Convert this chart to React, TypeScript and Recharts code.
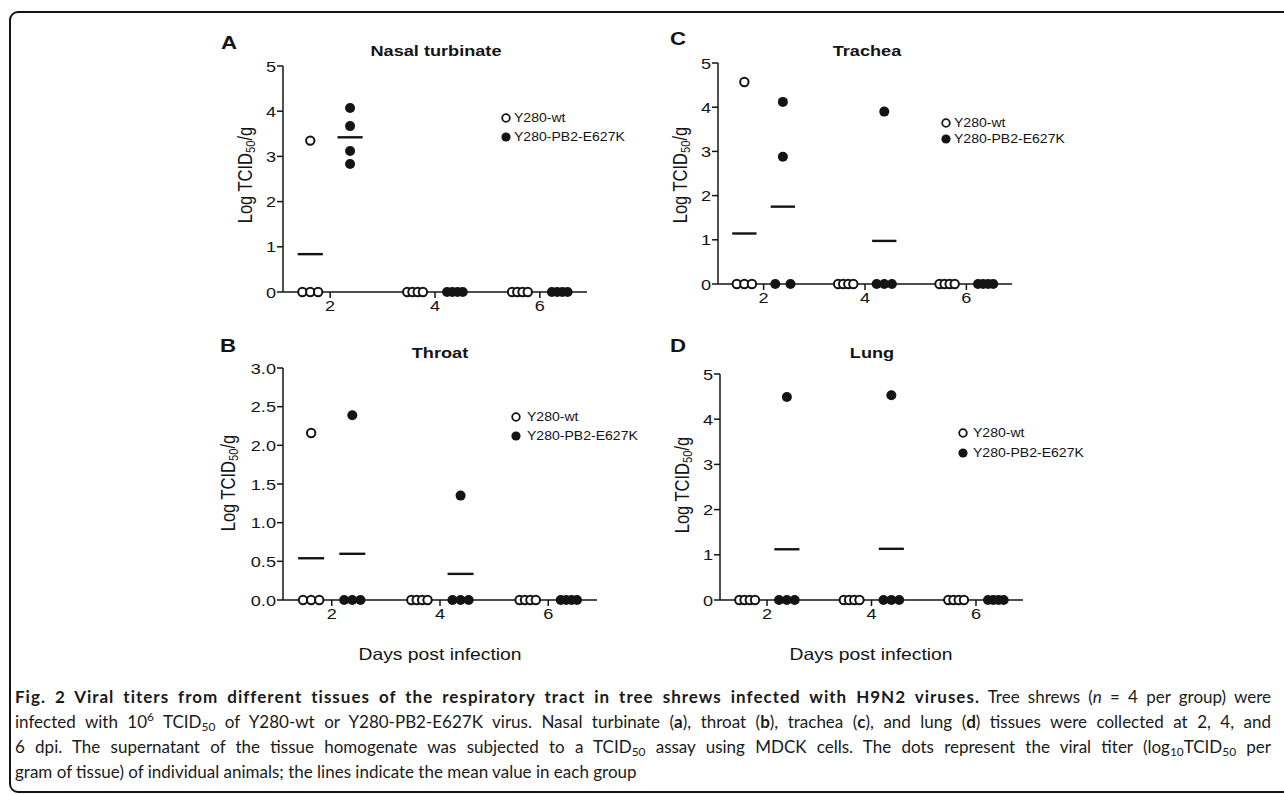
import React from 'react';
import { ScatterChart, Scatter, XAxis, YAxis, ReferenceLine } from 'recharts';

// values: one array per day (2, 4, 6), 4 animals each
const days = [2, 4, 6];
const seriesNames = ['Y280-wt', 'Y280-PB2-E627K'];

const nasalWt = [[3.35, 0, 0, 0], [0, 0, 0, 0], [0, 0, 0, 0]];
const nasalPb2 = [[4.07, 3.67, 3.12, 2.83], [0, 0, 0, 0], [0, 0, 0, 0]];
const throatWt = [[2.16, 0, 0, 0], [0, 0, 0, 0], [0, 0, 0, 0]];
const throatPb2 = [[2.39, 0, 0, 0], [1.35, 0, 0, 0], [0, 0, 0, 0]];
const tracheaWt = [[4.57, 0, 0, 0], [0, 0, 0, 0], [0, 0, 0, 0]];
const tracheaPb2 = [[4.12, 2.88, 0, 0], [3.9, 0, 0, 0], [0, 0, 0, 0]];
const lungWt = [[0, 0, 0, 0], [0, 0, 0, 0], [0, 0, 0, 0]];
const lungPb2 = [[4.49, 0, 0, 0], [4.53, 0, 0, 0], [0, 0, 0, 0]];

const ticks5 = [0, 1, 2, 3, 4, 5];
const ticks3 = [0, 0.5, 1, 1.5, 2, 2.5, 3];

const FONT = '"Liberation Sans", Arial, Helvetica, sans-serif';
const SX = 1.17; // the figure is a bit stretched sideways
const INK = '#141414';
const OFF = 0.38; // group offset from the day tick
const ZSPAN = 0.3; // spread of points sitting on zero
const HALF = 0.24; // half width of mean bar

function spread(values: number[], center: number) {
  const n = values.filter((v) => v === 0).length;
  let k = 0;
  return values.map((v) => {
    if (v !== 0) return { x: center, y: v };
    const x = n > 1 ? center + (k / (n - 1) - 0.5) * ZSPAN : center;
    k++;
    return { x, y: 0 };
  });
}

const mean = (a: number[]) => a.reduce((s, v) => s + v, 0) / a.length;

function YTick(props: any) {
  const { x, y, payload, fmt } = props;
  return (
    <text
      x={x}
      y={y}
      dy="0.36em"
      textAnchor="end"
      fill={INK}
      fontSize={15.5}
      fontFamily={FONT}
      transform={`translate(${x} ${y}) scale(${SX} 1) translate(${-x} ${-y})`}
    >
      {fmt(payload.value)}
    </text>
  );
}

function XTick(props: any) {
  const { x, y, payload } = props;
  return (
    <text
      x={x}
      y={y}
      dy="0.74em"
      textAnchor="middle"
      fill={INK}
      fontSize={15.5}
      fontFamily={FONT}
      transform={`translate(${x} ${y}) scale(${SX} 1) translate(${-x} ${-y})`}
    >
      {payload.value}
    </text>
  );
}

const openDot = (p: any) => (
  <circle cx={p.cx} cy={p.cy} r={4.2} fill="#fff" stroke={INK} strokeWidth={2} />
);
const fullDot = (p: any) => <circle cx={p.cx} cy={p.cy} r={5} fill={INK} />;

function Txt({ x, y, size, bold, children }: any) {
  return (
    <div
      style={{
        position: 'absolute',
        left: x,
        top: y,
        transform: `translate(-50%,-50%) scaleX(${SX})`,
        fontFamily: FONT,
        fontSize: size,
        fontWeight: bold ? 700 : 400,
        whiteSpace: 'nowrap',
        lineHeight: 1,
        color: INK,
      }}
    >
      {children}
    </div>
  );
}

const sub = { fontSize: '0.68em', lineHeight: 0, verticalAlign: '-0.28em' } as const;

function YLabel({ x, y }: any) {
  return (
    <div
      style={{
        position: 'absolute',
        left: x,
        top: y,
        transform: `translate(-50%,-50%) rotate(-90deg) scaleY(${SX})`,
        fontFamily: FONT,
        fontSize: 16.5,
        whiteSpace: 'nowrap',
        lineHeight: 1,
        color: INK,
      }}
    >
      Log TCID<span style={sub}>50</span>/g
    </div>
  );
}

function LegendRow({ x, y, textX, filled, label }: any) {
  return (
    <>
      <svg
        width={14}
        height={14}
        style={{ position: 'absolute', left: x - 7, top: y - 7 }}
      >
        {filled ? (
          <circle cx={7} cy={7} r={4.6} fill={INK} />
        ) : (
          <circle cx={7} cy={7} r={3.8} fill="#fff" stroke={INK} strokeWidth={1.8} />
        )}
      </svg>
      <div
        style={{
          position: 'absolute',
          left: textX,
          top: y,
          transform: `translateY(-50%) scaleX(${SX})`,
          transformOrigin: 'left center',
          fontFamily: FONT,
          fontSize: 12,
          whiteSpace: 'nowrap',
          lineHeight: 1,
          color: INK,
        }}
      >
        {label}
      </div>
    </>
  );
}

function Panel({ cfg }: any) {
  const { plot, wt, pb2, yMax, yTicks, fmt } = cfg;
  const padL = 60;
  const padT = 12;
  const padR = 12;
  const padB = 30;
  const width = plot.r - plot.l + padL + padR;
  const height = plot.b - plot.t + padT + padB;

  const wtPts = days.flatMap((d, i) => spread(wt[i], d - OFF));
  const pbPts = days.flatMap((d, i) => spread(pb2[i], d + OFF));
  const bars: { c: number; m: number }[] = [];
  days.forEach((d, i) => {
    bars.push({ c: d - OFF, m: mean(wt[i]) });
    bars.push({ c: d + OFF, m: mean(pb2[i]) });
  });

  const axisStyle = { stroke: INK, strokeWidth: 1.5 };

  return (
    <>
      <div style={{ position: 'absolute', left: plot.l - padL, top: plot.t - padT }}>
        <ScatterChart
          width={width}
          height={height}
          margin={{ top: padT, right: padR, left: 0, bottom: 0 }}
        >
          <XAxis
            type="number"
            dataKey="x"
            domain={[1.1, 6.9]}
            ticks={days}
            height={padB}
            tickSize={6}
            tickMargin={2}
            axisLine={axisStyle}
            tickLine={axisStyle}
            tick={<XTick />}
          />
          <YAxis
            type="number"
            dataKey="y"
            domain={[0, yMax]}
            ticks={yTicks}
            width={padL}
            tickSize={6}
            tickMargin={1}
            axisLine={axisStyle}
            tickLine={axisStyle}
            tick={<YTick fmt={fmt} />}
          />
          {bars
            .filter((b) => b.m > 0)
            .map((b, i) => (
              <ReferenceLine
                key={i}
                segment={[
                  { x: b.c - HALF, y: b.m },
                  { x: b.c + HALF, y: b.m },
                ]}
                stroke={INK}
                strokeWidth={2.4}
                ifOverflow="visible"
              />
            ))}
          <Scatter data={wtPts} shape={openDot} isAnimationActive={false} />
          <Scatter data={pbPts} shape={fullDot} isAnimationActive={false} />
        </ScatterChart>
      </div>
      <Txt x={cfg.letter[1]} y={cfg.letter[2]} size={19} bold>
        {cfg.letter[0]}
      </Txt>
      <Txt x={cfg.title[1]} y={cfg.title[2]} size={15.5} bold>
        {cfg.title[0]}
      </Txt>
      <YLabel x={cfg.ylab[0]} y={cfg.ylab[1]} />
      <LegendRow x={cfg.leg.x} y={cfg.leg.y1} textX={cfg.leg.tx} label={seriesNames[0]} />
      <LegendRow x={cfg.leg.x} y={cfg.leg.y2} textX={cfg.leg.tx} filled label={seriesNames[1]} />
    </>
  );
}

const int = (v: number) => String(v);
const one = (v: number) => v.toFixed(1);

const panels = [
  {
    plot: { l: 283, t: 66, r: 587, b: 292 },
    wt: nasalWt, pb2: nasalPb2, yMax: 5, yTicks: ticks5, fmt: int,
    letter: ['A', 229, 42], title: ['Nasal turbinate', 436, 51],
    ylab: [245, 175], leg: { x: 506, tx: 514, y1: 118, y2: 137 },
  },
  {
    plot: { l: 283, t: 368, r: 597, b: 600 },
    wt: throatWt, pb2: throatPb2, yMax: 3, yTicks: ticks3, fmt: one,
    letter: ['B', 228, 345], title: ['Throat', 440, 353],
    ylab: [228, 483], leg: { x: 516, tx: 527, y1: 417, y2: 436 },
  },
  {
    plot: { l: 718, t: 63, r: 1012, b: 284 },
    wt: tracheaWt, pb2: tracheaPb2, yMax: 5, yTicks: ticks5, fmt: int,
    letter: ['C', 678, 38], title: ['Trachea', 867, 51],
    ylab: [680, 175], leg: { x: 946, tx: 954, y1: 123, y2: 139 },
  },
  {
    plot: { l: 720, t: 374, r: 1023, b: 600 },
    wt: lungWt, pb2: lungPb2, yMax: 5, yTicks: ticks5, fmt: int,
    letter: ['D', 678, 345], title: ['Lung', 872, 353],
    ylab: [682, 485], leg: { x: 963, tx: 973, y1: 433, y2: 453 },
  },
];

const CAP = '"Lato", "Open Sans", sans-serif';
const capSub = { fontSize: '0.7em', lineHeight: 0, verticalAlign: '-0.25em' } as const;
const capSup = { fontSize: '0.7em', lineHeight: 0, verticalAlign: '0.55em' } as const;
const wide = { letterSpacing: '1px' } as const;

const captionLines = [
  <>
    <b style={wide}>
      Fig. 2 Viral titers from different tissues of the respiratory tract in tree shrews infected
      with H9N2 viruses.
    </b>{' '}
    Tree shrews (<i>n</i> = 4 per group) were
  </>,
  <>
    infected with 10<span style={capSup}>6</span> TCID<span style={capSub}>50</span> of Y280-wt or
    Y280-PB2-E627K virus. Nasal turbinate (<b>a</b>), throat (<b>b</b>), trachea (<b>c</b>), and
    lung (<b>d</b>) tissues were collected at 2, 4, and
  </>,
  <>
    6 dpi. The supernatant of the tissue homogenate was subjected to a TCID
    <span style={capSub}>50</span> assay using MDCK cells. The dots represent the viral titer (log
    <span style={capSub}>10</span>TCID<span style={capSub}>50</span> per
  </>,
  <>gram of tissue) of individual animals; the lines indicate the mean value in each group</>,
];
const captionY = [697, 722, 747, 772];

export default function App() {
  return (
    <div
      style={{
        position: 'fixed',
        left: 0,
        top: 0,
        width: 1284,
        height: 795,
        overflow: 'hidden',
        background: '#fff',
      }}
    >
      <div
        style={{
          position: 'absolute',
          left: 9,
          top: 11,
          width: 1300,
          height: 778,
          border: `2.5px solid ${INK}`,
          borderRadius: 9,
        }}
      />
      {panels.map((p, i) => (
        <Panel key={i} cfg={p} />
      ))}
      <Txt x={440} y={654} size={16.5}>Days post infection</Txt>
      <Txt x={871} y={654} size={16.5}>Days post infection</Txt>
      {captionLines.map((line, i) => (
        <div
          key={i}
          style={{
            position: 'absolute',
            left: 15,
            top: captionY[i],
            width: 1256,
            transform: 'translateY(-50%)',
            fontFamily: CAP,
            fontSize: 17,
            lineHeight: 1.2,
            color: '#1a1a1a',
            textAlign: 'justify',
            textAlignLast: i < captionLines.length - 1 ? 'justify' : 'left',
          }}
        >
          {line}
        </div>
      ))}
    </div>
  );
}
